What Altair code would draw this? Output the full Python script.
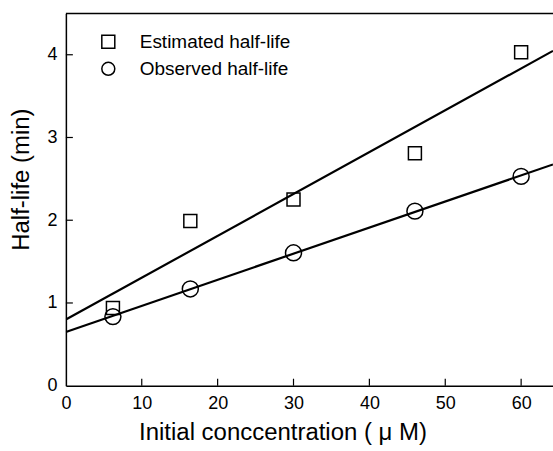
import altair as alt
import pandas as pd

conc = [6.2, 16.4, 30.0, 46.0, 60.0]
estimated = [0.94, 1.99, 2.25, 2.81, 4.03]
observed = [0.835, 1.17, 1.606, 2.11, 2.53]
series_names = ["Estimated half-life", "Observed half-life"]
x_ticks = [10, 20, 30, 40, 50, 60]
y_ticks = [1, 2, 3, 4]

XMAX = 64.2
YMAX = 4.5
W, H = 488, 373
FONT = "Liberation Sans"

rows = []
for xv, e, o in zip(conc, estimated, observed):
    rows.append({"x": xv, "y": e, "series": series_names[0]})
    rows.append({"x": xv, "y": o, "series": series_names[1]})
df = pd.DataFrame(rows)

xs = alt.Scale(domain=[0, XMAX], nice=False, zero=False)
ys = alt.Scale(domain=[0, YMAX], nice=False)

xaxis = alt.Axis(values=[0] + x_ticks, format="d", ticks=False, grid=False, domainColor="black",
                 domainWidth=1.5, labelFontSize=18, labelFont=FONT, labelColor="black",
                 labelPadding=9, title="Initial conccentration ( \u03bc M)",
                 titleFontSize=24, titleFont=FONT, titleFontWeight="normal", titleColor="black",
                 titleX=217, titleY=59, titleBaseline="bottom", labelFlush=False)
yaxis = alt.Axis(values=[0] + y_ticks, format="d", ticks=False, grid=False, domainColor="black",
                 domainWidth=1.5, labelFontSize=18, labelFont=FONT, labelColor="black",
                 labelPadding=9, title="Half-life (min)", titleFontSize=24, titleFont=FONT,
                 titleFontWeight="normal", titleColor="black", titleX=-44, titleY=166,
                 titleBaseline="middle", titleAngle=270)

base = alt.Chart(df)

lines = base.transform_regression(
    "x", "y", groupby=["series"], extent=[0, XMAX]
).mark_line(color="black", strokeWidth=2.2, clip=True).encode(
    x=alt.X("x:Q", scale=xs, axis=xaxis),
    y=alt.Y("y:Q", scale=ys, axis=yaxis),
    detail="series:N",
)

points = base.mark_point(filled=False, color="black", strokeWidth=1.5, opacity=1).encode(
    x=alt.X("x:Q", scale=xs, axis=xaxis),
    y=alt.Y("y:Q", scale=ys, axis=yaxis),
    shape=alt.Shape("series:N",
                    scale=alt.Scale(domain=series_names, range=["square", "circle"]),
                    legend=alt.Legend(title=None, orient="none", legendX=33, legendY=19,
                                      labelFontSize=19, labelFont=FONT, labelColor="black",
                                      symbolSize=169, symbolStrokeColor="black",
                                      symbolFillColor="transparent", symbolStrokeWidth=1.5,
                                      rowPadding=7, labelOffset=22, padding=0)),
    size=alt.condition("datum.series == 'Observed half-life'", alt.value(256), alt.value(169)),
)

xt = alt.Chart(pd.DataFrame({"t": x_ticks})).mark_rule(color="black", strokeWidth=1.2).encode(
    x=alt.X("t:Q", scale=xs, axis=xaxis), y=alt.value(H), y2=alt.value(H - 7)
)
yt = alt.Chart(pd.DataFrame({"t": y_ticks})).mark_rule(color="black", strokeWidth=1.2).encode(
    y=alt.Y("t:Q", scale=ys, axis=yaxis), x=alt.value(0), x2=alt.value(7)
)
top = alt.Chart(pd.DataFrame({"t": [YMAX]})).mark_rule(color="black", strokeWidth=1.5).encode(
    y=alt.Y("t:Q", scale=ys, axis=yaxis), x=alt.value(0), x2=alt.value(W)
)

chart = alt.layer(lines, points, xt, yt, top).properties(
    width=W, height=H,
    autosize=alt.AutoSizeParams(type="none"),
    padding={"left": 66, "top": 13, "right": 0, "bottom": 65},
    background="white",
).configure_view(stroke=None)

chart.save("out.html", embed_options={"renderer": "svg", "actions": False})
